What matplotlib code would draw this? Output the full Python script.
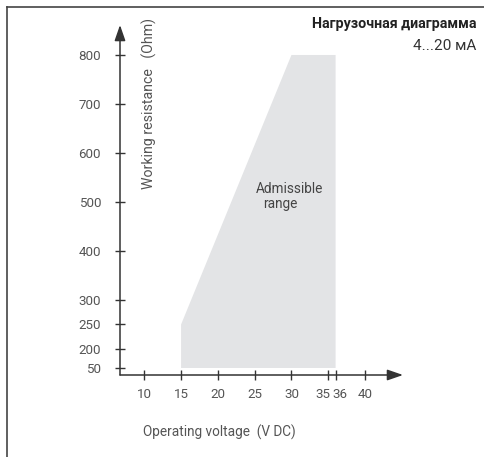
import numpy as np
import matplotlib
matplotlib.use("Agg")
import matplotlib.pyplot as plt
from matplotlib.lines import Line2D
from matplotlib.transforms import ScaledTranslation

plt.rcParams['font.family'] = ['Roboto', 'DejaVu Sans']

# ---- data ----
voltage = [15, 15, 30, 36, 36]
resistance = [50, 250, 800, 800, 50]
xticks = [10, 15, 20, 25, 30, 35, 36, 40]
yticks = [50, 200, 250, 300, 400, 500, 600, 700, 800]

title = "Нагрузочная диаграмма"
subtitle = "4...20 мА"
xlabel = "Operating voltage  (V DC)"
ylabel = "Working resistance   (Ohm)"
area_line1 = "Admissible"
area_line2 = "range"

# broken (compressed) scale below 200 Ohm
K = 0.2587
def fwd(y):
    y = np.asarray(y, dtype=float)
    return np.where(y >= 200, y, 200 - (200 - y) * K)
def inv(t):
    t = np.asarray(t, dtype=float)
    return np.where(t >= 200, t, 200 - (200 - t) / K)

W, H = 484, 457
fig = plt.figure(figsize=(W / 100, H / 100), dpi=100)
ax = fig.add_axes([120 / W, (H - 375) / H, 283 / W, 350 / H])
ax.set_yscale('function', functions=(fwd, inv))
ax.set_xlim(6.70, 45.16)
ax.set_ylim(-5.3, 861.2)

ax.fill(voltage, resistance, color='#e3e4e6', lw=0, zorder=1)

for s in ax.spines.values():
    s.set_visible(False)

axc = '#333333'
ap = dict(arrowstyle='-|>,head_length=0.95,head_width=0.33', color=axc,
          lw=1.1, shrinkA=0, shrinkB=0)
ax.annotate('', xy=(1, 0), xytext=(0, 0), xycoords='axes fraction',
            textcoords='axes fraction', arrowprops=ap, zorder=3)
ax.annotate('', xy=(0, 1), xytext=(0, 0), xycoords='axes fraction',
            textcoords='axes fraction', arrowprops=ap, zorder=3)

lab_c = '#555555'
ax.set_xticks(xticks)
ax.set_xticklabels([str(v) for v in xticks])
ax.set_yticks(yticks)
ax.set_yticklabels([str(v) for v in yticks])
ax.tick_params(axis='both', direction='inout', length=7.2, width=1.0,
               color=axc, labelcolor=lab_c, labelsize=9.6)
ax.tick_params(axis='x', pad=6)
ax.tick_params(axis='y', pad=10)
ax.minorticks_off()

# nudge crowded labels 35 / 36
for lbl, v in zip(ax.get_xticklabels(), xticks):
    if v == 35:
        lbl.set_transform(lbl.get_transform() + ScaledTranslation(-5 / 100, 0, fig.dpi_scale_trans))
    if v == 36:
        lbl.set_transform(lbl.get_transform() + ScaledTranslation(4 / 100, 0, fig.dpi_scale_trans))

# axis titles
fig.text(143 / W, 1 - 432 / H, xlabel, ha='left', va='center',
         fontsize=9.8, color=lab_c)
fig.text(149 / W, 1 - 18 / H, ylabel, ha='center', va='top', rotation=90,
         fontsize=10.2, color=lab_c)

# admissible range text
fig.text(256 / W, 1 - 189 / H, area_line1, ha='left', va='center',
         fontsize=9.8, color='#444444')
fig.text(263 / W, 1 - 204 / H, area_line2, ha='left', va='center',
         fontsize=9.8, color='#444444')

# title block
fig.text(476 / W, 1 - 24 / H, title, ha='right', va='center',
         fontsize=10.3, fontweight='bold', color='#222222')
fig.text(476 / W, 1 - 46 / H, subtitle, ha='right', va='center',
         fontsize=11, color='#333333')

# frame lines (top and left)
fig.add_artist(Line2D([6.5 / W, 1], [1 - 6.5 / H, 1 - 6.5 / H], color='#444444', lw=1.2,
                      transform=fig.transFigure))
fig.add_artist(Line2D([6.5 / W, 6.5 / W], [0, 1 - 6.5 / H], color='#444444', lw=1.2,
                      transform=fig.transFigure))

fig.savefig('out.png', dpi=100)
